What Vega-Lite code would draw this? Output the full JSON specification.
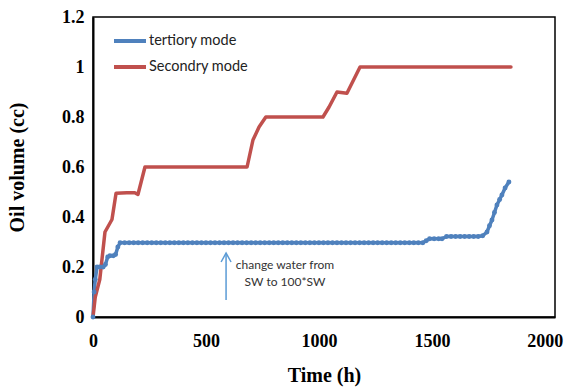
{
  "$schema": "https://vega.github.io/schema/vega-lite/v6.json",
  "width": 462,
  "height": 300,
  "autosize": {"type": "none"},
  "padding": {"left": 93, "top": 17, "right": 11, "bottom": 70},
  "background": "white",
  "config": {
    "view": {"stroke": "#000", "strokeWidth": 1.5},
    "axis": {"grid": false, "ticks": false, "domainColor": "#000", "domainWidth": 2, "labelFlush": false,
      "labelFont": "Liberation Serif", "labelFontWeight": "bold", "labelFontSize": 18, "labelColor": "#000",
      "titleFont": "Liberation Serif", "titleFontWeight": "bold", "titleFontSize": 20, "titleColor": "#000"}
  },
  "datasets": {
    "series": [
      {"t": 0, "v": 0, "s": "tertiory mode"},
      {"t": 5, "v": 0.1, "s": "tertiory mode"},
      {"t": 10, "v": 0.15, "s": "tertiory mode"},
      {"t": 18, "v": 0.2, "s": "tertiory mode"},
      {"t": 30, "v": 0.2, "s": "tertiory mode"},
      {"t": 45, "v": 0.2, "s": "tertiory mode"},
      {"t": 55, "v": 0.21, "s": "tertiory mode"},
      {"t": 65, "v": 0.24, "s": "tertiory mode"},
      {"t": 75, "v": 0.245, "s": "tertiory mode"},
      {"t": 90, "v": 0.245, "s": "tertiory mode"},
      {"t": 100, "v": 0.25, "s": "tertiory mode"},
      {"t": 110, "v": 0.28, "s": "tertiory mode"},
      {"t": 120, "v": 0.297, "s": "tertiory mode"},
      {"t": 140, "v": 0.297, "s": "tertiory mode"},
      {"t": 160, "v": 0.297, "s": "tertiory mode"},
      {"t": 180, "v": 0.297, "s": "tertiory mode"},
      {"t": 200, "v": 0.297, "s": "tertiory mode"},
      {"t": 220, "v": 0.297, "s": "tertiory mode"},
      {"t": 240, "v": 0.297, "s": "tertiory mode"},
      {"t": 260, "v": 0.297, "s": "tertiory mode"},
      {"t": 280, "v": 0.297, "s": "tertiory mode"},
      {"t": 300, "v": 0.297, "s": "tertiory mode"},
      {"t": 320, "v": 0.297, "s": "tertiory mode"},
      {"t": 340, "v": 0.297, "s": "tertiory mode"},
      {"t": 360, "v": 0.297, "s": "tertiory mode"},
      {"t": 380, "v": 0.297, "s": "tertiory mode"},
      {"t": 400, "v": 0.297, "s": "tertiory mode"},
      {"t": 420, "v": 0.297, "s": "tertiory mode"},
      {"t": 440, "v": 0.297, "s": "tertiory mode"},
      {"t": 460, "v": 0.297, "s": "tertiory mode"},
      {"t": 480, "v": 0.297, "s": "tertiory mode"},
      {"t": 500, "v": 0.297, "s": "tertiory mode"},
      {"t": 520, "v": 0.297, "s": "tertiory mode"},
      {"t": 540, "v": 0.297, "s": "tertiory mode"},
      {"t": 560, "v": 0.297, "s": "tertiory mode"},
      {"t": 580, "v": 0.297, "s": "tertiory mode"},
      {"t": 600, "v": 0.297, "s": "tertiory mode"},
      {"t": 620, "v": 0.297, "s": "tertiory mode"},
      {"t": 640, "v": 0.297, "s": "tertiory mode"},
      {"t": 660, "v": 0.297, "s": "tertiory mode"},
      {"t": 680, "v": 0.297, "s": "tertiory mode"},
      {"t": 700, "v": 0.297, "s": "tertiory mode"},
      {"t": 720, "v": 0.297, "s": "tertiory mode"},
      {"t": 740, "v": 0.297, "s": "tertiory mode"},
      {"t": 760, "v": 0.297, "s": "tertiory mode"},
      {"t": 780, "v": 0.297, "s": "tertiory mode"},
      {"t": 800, "v": 0.297, "s": "tertiory mode"},
      {"t": 820, "v": 0.297, "s": "tertiory mode"},
      {"t": 840, "v": 0.297, "s": "tertiory mode"},
      {"t": 860, "v": 0.297, "s": "tertiory mode"},
      {"t": 880, "v": 0.297, "s": "tertiory mode"},
      {"t": 900, "v": 0.297, "s": "tertiory mode"},
      {"t": 920, "v": 0.297, "s": "tertiory mode"},
      {"t": 940, "v": 0.297, "s": "tertiory mode"},
      {"t": 960, "v": 0.297, "s": "tertiory mode"},
      {"t": 980, "v": 0.297, "s": "tertiory mode"},
      {"t": 1000, "v": 0.297, "s": "tertiory mode"},
      {"t": 1020, "v": 0.297, "s": "tertiory mode"},
      {"t": 1040, "v": 0.297, "s": "tertiory mode"},
      {"t": 1060, "v": 0.297, "s": "tertiory mode"},
      {"t": 1080, "v": 0.297, "s": "tertiory mode"},
      {"t": 1100, "v": 0.297, "s": "tertiory mode"},
      {"t": 1120, "v": 0.297, "s": "tertiory mode"},
      {"t": 1140, "v": 0.297, "s": "tertiory mode"},
      {"t": 1160, "v": 0.297, "s": "tertiory mode"},
      {"t": 1180, "v": 0.297, "s": "tertiory mode"},
      {"t": 1200, "v": 0.297, "s": "tertiory mode"},
      {"t": 1220, "v": 0.297, "s": "tertiory mode"},
      {"t": 1240, "v": 0.297, "s": "tertiory mode"},
      {"t": 1260, "v": 0.297, "s": "tertiory mode"},
      {"t": 1280, "v": 0.297, "s": "tertiory mode"},
      {"t": 1300, "v": 0.297, "s": "tertiory mode"},
      {"t": 1320, "v": 0.297, "s": "tertiory mode"},
      {"t": 1340, "v": 0.297, "s": "tertiory mode"},
      {"t": 1360, "v": 0.297, "s": "tertiory mode"},
      {"t": 1380, "v": 0.297, "s": "tertiory mode"},
      {"t": 1400, "v": 0.297, "s": "tertiory mode"},
      {"t": 1420, "v": 0.297, "s": "tertiory mode"},
      {"t": 1440, "v": 0.297, "s": "tertiory mode"},
      {"t": 1460, "v": 0.297, "s": "tertiory mode"},
      {"t": 1475, "v": 0.305, "s": "tertiory mode"},
      {"t": 1490, "v": 0.313, "s": "tertiory mode"},
      {"t": 1510, "v": 0.313, "s": "tertiory mode"},
      {"t": 1530, "v": 0.313, "s": "tertiory mode"},
      {"t": 1545, "v": 0.313, "s": "tertiory mode"},
      {"t": 1565, "v": 0.322, "s": "tertiory mode"},
      {"t": 1585, "v": 0.322, "s": "tertiory mode"},
      {"t": 1605, "v": 0.322, "s": "tertiory mode"},
      {"t": 1625, "v": 0.322, "s": "tertiory mode"},
      {"t": 1645, "v": 0.322, "s": "tertiory mode"},
      {"t": 1665, "v": 0.322, "s": "tertiory mode"},
      {"t": 1685, "v": 0.322, "s": "tertiory mode"},
      {"t": 1705, "v": 0.322, "s": "tertiory mode"},
      {"t": 1725, "v": 0.325, "s": "tertiory mode"},
      {"t": 1744, "v": 0.34, "s": "tertiory mode"},
      {"t": 1755, "v": 0.365, "s": "tertiory mode"},
      {"t": 1766, "v": 0.388, "s": "tertiory mode"},
      {"t": 1777, "v": 0.418, "s": "tertiory mode"},
      {"t": 1788, "v": 0.448, "s": "tertiory mode"},
      {"t": 1800, "v": 0.47, "s": "tertiory mode"},
      {"t": 1810, "v": 0.488, "s": "tertiory mode"},
      {"t": 1824, "v": 0.516, "s": "tertiory mode"},
      {"t": 1841, "v": 0.54, "s": "tertiory mode"},
      {"t": 0, "v": 0, "s": "Secondry mode"},
      {"t": 10, "v": 0.08, "s": "Secondry mode"},
      {"t": 30, "v": 0.15, "s": "Secondry mode"},
      {"t": 53, "v": 0.34, "s": "Secondry mode"},
      {"t": 84, "v": 0.39, "s": "Secondry mode"},
      {"t": 102, "v": 0.495, "s": "Secondry mode"},
      {"t": 150, "v": 0.497, "s": "Secondry mode"},
      {"t": 185, "v": 0.497, "s": "Secondry mode"},
      {"t": 199, "v": 0.49, "s": "Secondry mode"},
      {"t": 230, "v": 0.6, "s": "Secondry mode"},
      {"t": 400, "v": 0.6, "s": "Secondry mode"},
      {"t": 682, "v": 0.6, "s": "Secondry mode"},
      {"t": 708, "v": 0.708, "s": "Secondry mode"},
      {"t": 735, "v": 0.76, "s": "Secondry mode"},
      {"t": 765, "v": 0.8, "s": "Secondry mode"},
      {"t": 1018, "v": 0.8, "s": "Secondry mode"},
      {"t": 1045, "v": 0.84, "s": "Secondry mode"},
      {"t": 1080, "v": 0.9, "s": "Secondry mode"},
      {"t": 1124, "v": 0.895, "s": "Secondry mode"},
      {"t": 1182, "v": 1.0, "s": "Secondry mode"},
      {"t": 1850, "v": 1.0, "s": "Secondry mode"}
    ],
    "arrowShaft": [
      {"t": 589, "v": 0.068},
      {"t": 589, "v": 0.254}
    ],
    "arrowHead": [
      {"t": 567, "v": 0.22, "o": 1},
      {"t": 589, "v": 0.256, "o": 2},
      {"t": 611, "v": 0.22, "o": 3}
    ],
    "notes": [
      {"t": 850, "v": 0.208, "label": "change water from"},
      {"t": 850, "v": 0.14, "label": "SW to 100*SW"}
    ]
  },
  "layer": [
    {
      "data": {"name": "series"},
      "mark": {"type": "line", "strokeWidth": 3.5, "strokeJoin": "round", "strokeCap": "round"},
      "encoding": {
        "x": {"field": "t", "type": "quantitative",
          "scale": {"domain": [0, 2045], "nice": false, "zero": true},
          "axis": {"title": "Time (h)", "values": [0, 500, 1000, 1500, 2000], "format": "d", "labelPadding": 15, "titlePadding": 15}},
        "y": {"field": "v", "type": "quantitative",
          "scale": {"domain": [0, 1.2], "nice": false},
          "axis": {"title": "Oil volume (cc)", "values": [0, 0.2, 0.4, 0.6, 0.8, 1, 1.2], "format": "~g", "labelPadding": 9, "titlePadding": 34}},
        "color": {"field": "s", "type": "nominal",
          "scale": {"domain": ["tertiory mode", "Secondry mode"], "range": ["#4F81BD", "#C0504D"]},
          "legend": {"title": null, "orient": "none", "legendX": 19, "legendY": 6,
            "symbolType": "stroke", "symbolSize": 1024, "symbolStrokeWidth": 4,
            "labelFont": "Lato", "labelFontSize": 14.5, "labelColor": "#222", "rowPadding": -14, "labelOffset": 1}},
        "detail": {"field": "s"},
        "order": {"field": "t", "type": "quantitative"}
      }
    },
    {
      "data": {"name": "series"},
      "transform": [{"filter": "datum.s === 'tertiory mode'"}],
      "mark": {"type": "point", "filled": true, "size": 24, "opacity": 1, "color": "#4F81BD"},
      "encoding": {
        "x": {"field": "t", "type": "quantitative"},
        "y": {"field": "v", "type": "quantitative"}
      }
    },
    {
      "data": {"name": "arrowShaft"},
      "mark": {"type": "line", "color": "#5B9BD5", "strokeWidth": 1.5},
      "encoding": {
        "x": {"field": "t", "type": "quantitative"},
        "y": {"field": "v", "type": "quantitative"}
      }
    },
    {
      "data": {"name": "arrowHead"},
      "mark": {"type": "line", "color": "#5B9BD5", "strokeWidth": 1.5},
      "encoding": {
        "x": {"field": "t", "type": "quantitative"},
        "y": {"field": "v", "type": "quantitative"},
        "order": {"field": "o", "type": "quantitative"}
      }
    },
    {
      "data": {"name": "notes"},
      "mark": {"type": "text", "font": "Lato", "fontSize": 12, "color": "#333", "align": "center", "baseline": "middle"},
      "encoding": {
        "x": {"field": "t", "type": "quantitative"},
        "y": {"field": "v", "type": "quantitative"},
        "text": {"field": "label"}
      }
    }
  ]
}
